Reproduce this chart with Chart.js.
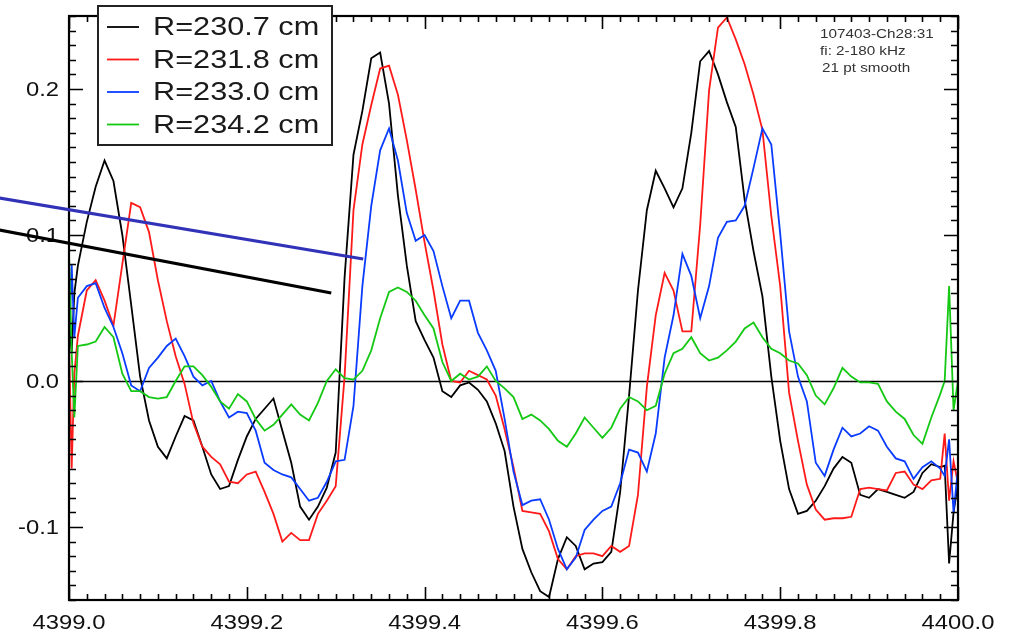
<!DOCTYPE html>
<html>
<head>
<meta charset="utf-8">
<script src="https://cdn.jsdelivr.net/npm/chart.js@4.4.1/dist/chart.umd.min.js"></script>
<style>
  html, body { margin: 0; padding: 0; background: #ffffff; }
  #wrap { width: 1011px; height: 634px; position: relative; }
</style>
</head>
<body>
<div id="wrap"><canvas id="c" width="1011" height="634"></canvas></div>
<script>
// Time axis (s) shared by all four radial channels
const timeSec = [
  4399.000, 4399.003, 4399.006,
  4399.01, 4399.02, 4399.03, 4399.04, 4399.05, 4399.06, 4399.07, 4399.08, 4399.09, 4399.10,
  4399.11, 4399.12, 4399.13, 4399.14, 4399.15, 4399.16, 4399.17, 4399.18, 4399.19, 4399.20,
  4399.21, 4399.22, 4399.23, 4399.24, 4399.25, 4399.26, 4399.27, 4399.28, 4399.29, 4399.30,
  4399.31, 4399.32, 4399.33, 4399.34, 4399.35, 4399.36, 4399.37, 4399.38, 4399.39, 4399.40,
  4399.41, 4399.42, 4399.43, 4399.44, 4399.45, 4399.46, 4399.47, 4399.48, 4399.49, 4399.50,
  4399.51, 4399.52, 4399.53, 4399.54, 4399.55, 4399.56, 4399.57, 4399.58, 4399.59, 4399.60,
  4399.61, 4399.62, 4399.63, 4399.64, 4399.65, 4399.66, 4399.67, 4399.68, 4399.69, 4399.70,
  4399.71, 4399.72, 4399.73, 4399.74, 4399.75, 4399.76, 4399.77, 4399.78, 4399.79, 4399.80,
  4399.81, 4399.82, 4399.83, 4399.84, 4399.85, 4399.86, 4399.87, 4399.88, 4399.89, 4399.90,
  4399.91, 4399.92, 4399.93, 4399.94, 4399.95, 4399.96, 4399.97, 4399.98,
  4399.985, 4399.990, 4399.995, 4400.000
];

// Channel signals (arb. units)
const sigR2307 = [
  0.040, 0.020, 0.060,
  0.079, 0.109, 0.133, 0.151, 0.137, 0.100, 0.052, 0.003, -0.027, -0.045,
  -0.053, -0.038, -0.024, -0.027, -0.045, -0.064, -0.074, -0.072, -0.054, -0.038,
  -0.026, -0.019, -0.012, -0.034, -0.056, -0.086, -0.095, -0.086, -0.073, -0.049,
  0.071, 0.155, 0.185, 0.221, 0.225, 0.190, 0.127, 0.079, 0.041, 0.028,
  0.016, -0.007, -0.011, -0.003, -0.001, -0.006, -0.014, -0.029, -0.048, -0.086,
  -0.115, -0.131, -0.144, -0.148, -0.122, -0.107, -0.113, -0.129, -0.125, -0.124,
  -0.117, -0.076, -0.010, 0.062, 0.117, 0.144, 0.132, 0.119, 0.132, 0.170,
  0.219, 0.226, 0.210, 0.191, 0.174, 0.124, 0.089, 0.058, 0.003, -0.041,
  -0.074, -0.091, -0.089, -0.082, -0.072, -0.060, -0.052, -0.056, -0.078, -0.080,
  -0.074, -0.076, -0.078, -0.080, -0.076, -0.063, -0.057, -0.059,
  -0.058, -0.125, -0.090, -0.070
];
const sigR2318 = [
  0.030, -0.060, 0.005,
  0.031, 0.062, 0.069, 0.055, 0.038, 0.080, 0.122, 0.119, 0.102, 0.069,
  0.041, 0.017, -0.002, -0.029, -0.045, -0.052, -0.057, -0.069, -0.070, -0.064,
  -0.062, -0.076, -0.091, -0.110, -0.104, -0.109, -0.109, -0.091, -0.082, -0.072,
  0.003, 0.117, 0.162, 0.189, 0.214, 0.216, 0.196, 0.165, 0.131, 0.095,
  0.062, 0.025, 0.000, -0.001, 0.007, 0.004, 0.001, -0.010, -0.033, -0.059,
  -0.089, -0.090, -0.091, -0.103, -0.122, -0.129, -0.120, -0.118, -0.118, -0.120,
  -0.113, -0.117, -0.113, -0.078, -0.004, 0.045, 0.074, 0.062, 0.034, 0.034,
  0.107, 0.199, 0.242, 0.249, 0.234, 0.217, 0.196, 0.172, 0.113, 0.065,
  -0.008, -0.041, -0.071, -0.088, -0.095, -0.094, -0.094, -0.093, -0.074, -0.073,
  -0.074, -0.075, -0.063, -0.062, -0.071, -0.074, -0.068, -0.067,
  -0.036, -0.082, -0.055, -0.070
];
const sigR2330 = [
  0.020, 0.080, 0.030,
  0.057, 0.065, 0.067, 0.050, 0.037, 0.019, -0.003, -0.007, 0.009, 0.016,
  0.024, 0.029, 0.017, 0.003, -0.003, 0.000, -0.014, -0.025, -0.021, -0.022,
  -0.034, -0.056, -0.061, -0.064, -0.066, -0.074, -0.082, -0.080, -0.069, -0.055,
  -0.054, -0.017, 0.065, 0.120, 0.158, 0.173, 0.151, 0.115, 0.096, 0.100,
  0.089, 0.065, 0.043, 0.055, 0.055, 0.033, 0.021, 0.007, -0.026, -0.062,
  -0.085, -0.082, -0.081, -0.095, -0.115, -0.129, -0.121, -0.102, -0.095, -0.089,
  -0.086, -0.070, -0.047, -0.049, -0.062, -0.036, 0.016, 0.045, 0.087, 0.072,
  0.043, 0.065, 0.098, 0.109, 0.110, 0.120, 0.146, 0.173, 0.162, 0.101,
  0.034, 0.003, -0.014, -0.056, -0.065, -0.047, -0.032, -0.038, -0.036, -0.031,
  -0.034, -0.045, -0.053, -0.055, -0.067, -0.059, -0.055, -0.060,
  -0.065, -0.040, -0.090, -0.060
];
const sigR2342 = [
  0.087, 0.020, -0.025,
  0.024, 0.025, 0.027, 0.037, 0.030, 0.005, -0.007, -0.007, -0.011, -0.012,
  -0.011, 0.000, 0.010, 0.010, 0.004, -0.004, -0.014, -0.019, -0.009, -0.014,
  -0.026, -0.034, -0.030, -0.023, -0.016, -0.023, -0.027, -0.015, 0.000, 0.008,
  0.002, 0.001, 0.007, 0.021, 0.043, 0.061, 0.064, 0.061, 0.055, 0.045,
  0.036, 0.013, 0.000, 0.005, 0.001, 0.003, 0.010, 0.000, -0.005, -0.011,
  -0.026, -0.023, -0.027, -0.033, -0.041, -0.045, -0.036, -0.025, -0.032, -0.039,
  -0.032, -0.019, -0.011, -0.014, -0.020, -0.017, 0.005, 0.019, 0.022, 0.030,
  0.019, 0.014, 0.016, 0.021, 0.027, 0.036, 0.040, 0.030, 0.022, 0.019,
  0.014, 0.012, 0.004, -0.010, -0.016, -0.005, 0.009, 0.003, -0.001, -0.001,
  -0.002, -0.014, -0.021, -0.026, -0.037, -0.043, -0.025, -0.009,
  0.000, 0.065, -0.020, 0.000
];

const seriesLabels = ['R=230.7 cm', 'R=231.8 cm', 'R=233.0 cm', 'R=234.2 cm'];
const seriesColors = ['#000000', '#ff1a1a', '#0a3cff', '#14c814'];

// Axis ticks
const xTickValues = [4399.0, 4399.2, 4399.4, 4399.6, 4399.8, 4400.0];
const xTickLabels = ['4399.0', '4399.2', '4399.4', '4399.6', '4399.8', '4400.0'];
const yTickValues = [-0.1, 0.0, 0.1, 0.2];
const yTickLabels = ['-0.1', '0.0', '0.1', '0.2'];

// Annotation text block and pointer lines (data coordinates)
const infoLines = ['107403-Ch28:31', 'fi: 2-180 kHz', '21 pt smooth'];
const pointerBlue = [[4398.922, 0.1253], [4399.331, 0.0836]];
const pointerBlack = [[4398.922, 0.1034], [4399.295, 0.0603]];

const LABEL_FONT = '19.5px "Liberation Sans", Arial, sans-serif';
const STRETCH = 1.22;

function stretchedText(ctx, text, x, y, align, sx) {
  ctx.save();
  ctx.translate(x, y);
  ctx.scale(sx, 1);
  ctx.textAlign = align;
  ctx.fillText(text, 0, 0);
  ctx.restore();
}

const idlAxes = {
  id: 'idlAxes',
  beforeDatasetsDraw(chart) {
    const { ctx, chartArea: a, scales: { y } } = chart;
    const yz = Math.round(y.getPixelForValue(0)) + 0.5;
    ctx.save();
    ctx.strokeStyle = '#000';
    ctx.lineWidth = 1.5;
    ctx.beginPath();
    ctx.moveTo(a.left, yz);
    ctx.lineTo(a.right, yz);
    ctx.stroke();
    ctx.restore();
  },
  afterDatasetsDraw(chart) {
    const { ctx, chartArea: a, scales: { x, y } } = chart;
    ctx.save();
    ctx.strokeStyle = '#000';
    ctx.lineWidth = 2.2;
    ctx.strokeRect(a.left, a.top, a.right - a.left, a.bottom - a.top);

    ctx.lineWidth = 1.6;
    ctx.beginPath();
    // x ticks: minor every 0.02, major every 0.2
    const nx = Math.round((x.max - x.min) / 0.02);
    for (let i = 0; i <= nx; i++) {
      const px = Math.round(x.getPixelForValue(x.min + i * 0.02)) + 0.5;
      const len = (i % 10 === 0) ? 13 : 6;
      ctx.moveTo(px, a.bottom); ctx.lineTo(px, a.bottom - len);
      ctx.moveTo(px, a.top); ctx.lineTo(px, a.top + len);
    }
    // y ticks: minor every 0.01, major every 0.1
    const ny = Math.round((y.max - y.min) / 0.01);
    for (let i = 0; i <= ny; i++) {
      const v = y.min + i * 0.01;
      const major = Math.abs(v * 10 - Math.round(v * 10)) < 1e-6;
      const py = Math.round(y.getPixelForValue(v)) + 0.5;
      const len = major ? 14 : 7;
      ctx.moveTo(a.left, py); ctx.lineTo(a.left + len, py);
      ctx.moveTo(a.right, py); ctx.lineTo(a.right - len, py);
    }
    ctx.stroke();

    ctx.fillStyle = '#111';
    ctx.font = LABEL_FONT;
    ctx.textBaseline = 'alphabetic';
    xTickValues.forEach((v, i) => {
      stretchedText(ctx, xTickLabels[i], x.getPixelForValue(v), a.bottom + 29, 'center', STRETCH);
    });
    yTickValues.forEach((v, i) => {
      stretchedText(ctx, yTickLabels[i], a.left - 10, y.getPixelForValue(v) + 7, 'right', STRETCH);
    });
    ctx.restore();
  },
  afterDraw(chart) {
    const { ctx, scales: { x, y } } = chart;
    ctx.save();
    // legend box
    const bx = 98, by = 6, bw = 234, bh = 139;
    ctx.fillStyle = '#ffffff';
    ctx.fillRect(bx, by, bw, bh);
    ctx.strokeStyle = '#222';
    ctx.lineWidth = 2;
    ctx.strokeRect(bx, by, bw, bh);
    ctx.font = '26px "Liberation Sans", Arial, sans-serif';
    ctx.textBaseline = 'alphabetic';
    seriesLabels.forEach((lab, i) => {
      const base = 35 + i * 32.5;
      ctx.strokeStyle = seriesColors[i];
      ctx.lineWidth = 1.8;
      ctx.beginPath();
      ctx.moveTo(107, base - 8);
      ctx.lineTo(139, base - 8);
      ctx.stroke();
      ctx.fillStyle = '#1a1a1a';
      stretchedText(ctx, lab, 153, base, 'left', 1.18);
    });

    // info text, upper right
    ctx.fillStyle = '#333';
    ctx.font = '13.5px "Liberation Sans", Arial, sans-serif';
    infoLines.forEach((t, i) => {
      stretchedText(ctx, t, 820 + (i === 2 ? 2 : 0), 38 + i * 17, 'left', 1.13);
    });

    // pointer lines
    const drawPointer = (pts, color) => {
      ctx.strokeStyle = color;
      ctx.lineWidth = 3;
      ctx.lineCap = 'butt';
      ctx.beginPath();
      ctx.moveTo(x.getPixelForValue(pts[0][0]), y.getPixelForValue(pts[0][1]));
      ctx.lineTo(x.getPixelForValue(pts[1][0]), y.getPixelForValue(pts[1][1]));
      ctx.stroke();
    };
    drawPointer(pointerBlue, '#3232b8');
    drawPointer(pointerBlack, '#000000');
    ctx.restore();
  }
};

const channels = [sigR2307, sigR2318, sigR2330, sigR2342];
const datasets = channels.map((sig, i) => ({
  label: seriesLabels[i],
  data: timeSec.map((t, k) => ({ x: t, y: sig[k] })),
  borderColor: seriesColors[i],
  borderWidth: 1.8,
  pointRadius: 0,
  tension: 0,
  fill: false,
  order: 3 - i
}));

new Chart(document.getElementById('c'), {
  type: 'line',
  data: { datasets },
  options: {
    responsive: false,
    animation: false,
    devicePixelRatio: 1,
    layout: { padding: { top: 16, right: 53, left: 0, bottom: 0 } },
    plugins: { legend: { display: false }, tooltip: { enabled: false } },
    scales: {
      x: {
        type: 'linear', min: 4399.0, max: 4400.0,
        grid: { display: false }, border: { display: false },
        ticks: { display: false },
        afterFit(s) { s.height = 34; }
      },
      y: {
        type: 'linear', min: -0.15, max: 0.25,
        grid: { display: false }, border: { display: false },
        ticks: { display: false },
        afterFit(s) { s.width = 69; }
      }
    }
  },
  plugins: [idlAxes]
});
</script>
</body>
</html>
